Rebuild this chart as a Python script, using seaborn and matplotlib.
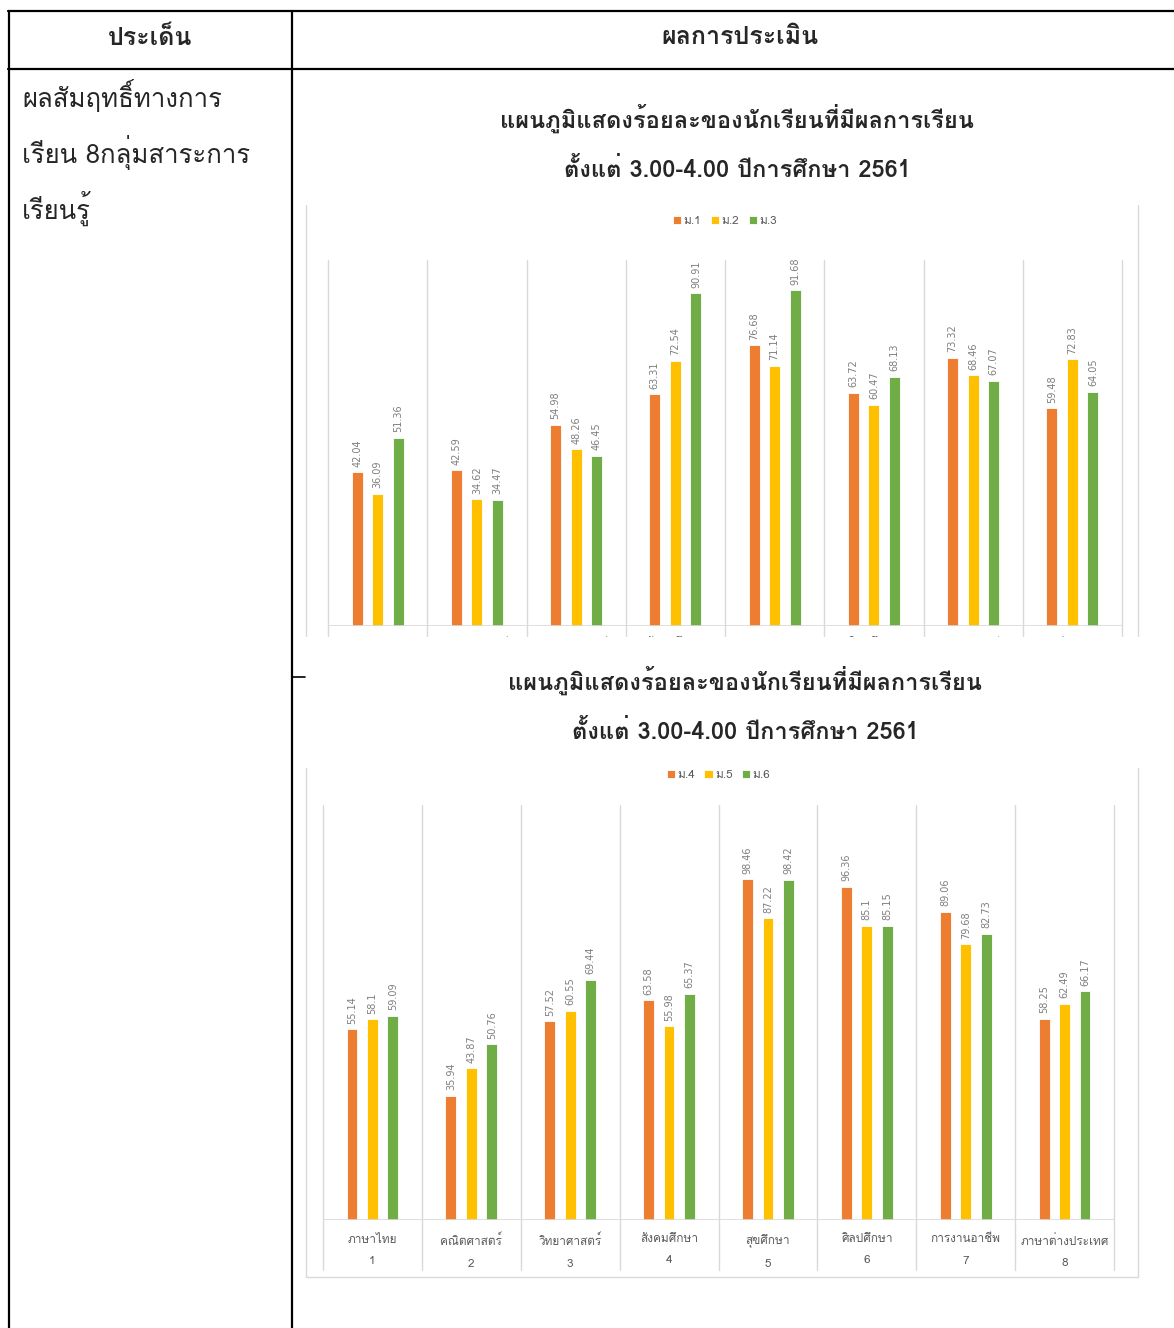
import numpy as np
import pandas as pd
import matplotlib
matplotlib.use('Agg')
import matplotlib.pyplot as plt
import seaborn as sns
from matplotlib import font_manager
from matplotlib.ft2font import FT2Font
from matplotlib.lines import Line2D
from matplotlib.patches import Rectangle

# ข้อมูล
subjects = ['ภาษาไทย', 'คณิตศาสตร์', 'วิทยาศาสตร์', 'สังคมศึกษา',
            'สุขศึกษา', 'ศิลปศึกษา', 'การงานอาชีพ', 'ภาษาต่างประเทศ']
subject_no = ['1', '2', '3', '4', '5', '6', '7', '8']

grades_lower = ['ม.1', 'ม.2', 'ม.3']
m1 = [42.04, 42.59, 54.98, 63.31, 76.68, 63.72, 73.32, 59.48]
m2 = [36.09, 34.62, 48.26, 72.54, 71.14, 60.47, 68.46, 72.83]
m3 = [51.36, 34.47, 46.45, 90.91, 91.68, 68.13, 67.07, 64.05]

grades_upper = ['ม.4', 'ม.5', 'ม.6']
m4 = [55.14, 35.94, 57.52, 63.58, 98.46, 96.36, 89.06, 58.25]
m5 = [58.1, 43.87, 60.55, 55.98, 87.22, 85.1, 79.68, 62.49]
m6 = [59.09, 50.76, 69.44, 65.37, 98.42, 85.15, 82.73, 66.17]

chart_title = ['แผนภูมิแสดงร้อยละของนักเรียนที่มีผลการเรียน',
               'ตั้งแต่ 3.00-4.00 ปีการศึกษา 2561']
header = ['ประเด็น', 'ผลการประเมิน']
left_cell = ['ผลสัมฤทธิ์ทางการ', 'เรียน 8กลุ่มสาระการ', 'เรียนรู้']

colors = ['#ED7D31', '#FFC000', '#70AD47']


# find a font that has Thai glyphs, if there is one
def thai_font():
    for f in font_manager.fontManager.ttflist:
        try:
            if ord('ก') in FT2Font(f.fname).get_charmap():
                return f.name
        except Exception:
            pass
    return 'DejaVu Sans'


sns.set_style('white')
fam = [thai_font(), 'DejaVu Sans']
plt.rcParams['font.family'] = fam

W, H = 1174, 1328
fig = plt.figure(figsize=(W / 100, H / 100), dpi=100)


def fx(x):
    return x / W


def fy(y):
    return 1 - y / H


def line(x0, y0, x1, y1, color='black', lw=1.6, z=1):
    fig.add_artist(Line2D([fx(x0), fx(x1)], [fy(y0), fy(y1)], color=color,
                          lw=lw, transform=fig.transFigure, zorder=z))


def make_df(grades, series, with_no=True):
    rows = []
    for g, vals in zip(grades, series):
        for s, n, v in zip(subjects, subject_no, vals):
            lab = s + '\n' + n if with_no else s
            rows.append({'subject': lab, 'grade': g, 'value': v})
    return pd.DataFrame(rows)


def draw_chart(rect_px, df, ymax, sep_low, legend_y, pad):
    left, top, right, bottom = rect_px
    ax = fig.add_axes([fx(left), fy(bottom), fx(right) - fx(left), (bottom - top) / H])
    sns.barplot(data=df, x='subject', y='value', hue='grade', palette=colors,
                saturation=1, width=0.62, gap=0.47, errorbar=None,
                edgecolor='white', linewidth=0.6, ax=ax)
    ax.set_xlim(-0.5, 7.5)
    ax.set_ylim(0, ymax)
    for c in ax.containers:
        ax.bar_label(c, fmt='{:g}', rotation=90, padding=4, fontsize=7,
                     color='#7F7F7F', family='DejaVu Sans')
    for x in np.arange(-0.5, 8, 1):
        ax.axvline(x, ymin=sep_low, ymax=1, color='#D9D9D9', lw=1, clip_on=False)
    ax.axhline(0, color='#D9D9D9', lw=1.2, zorder=3)
    sns.despine(ax=ax, left=True, bottom=True)
    ax.set_yticks([])
    ax.set_xlabel('')
    ax.set_ylabel('')
    ax.tick_params(axis='x', length=0, pad=pad, labelsize=8.5, labelcolor='#595959')
    for t in ax.get_xticklabels():
        t.set_linespacing(2.4)
    sns.move_legend(ax, 'center', bbox_to_anchor=(0.5, legend_y), ncol=3,
                    frameon=False, title=None, fontsize=8.5, handlelength=0.7,
                    handleheight=0.7, handletextpad=0.2, columnspacing=0.8,
                    labelcolor='#595959')
    return ax


# table lines
line(9, 11, 9, H)
line(292, 11, 292, H)
line(8, 11, W, 11)
line(8, 69, W, 69)
line(293, 677, 305, 677, lw=1.2)

fig.text(fx(150), fy(38), header[0], ha='center', va='center', fontsize=18, fontweight='bold')
fig.text(fx(740), fy(38), header[1], ha='center', va='center', fontsize=18, fontweight='bold')
for i, s in enumerate(left_cell):
    fig.text(fx(22), fy(96 + 56 * i), s, ha='left', va='center', fontsize=18.5)

# chart 1 (ม.1 - ม.3)
fig.text(fx(737), fy(118), chart_title[0], ha='center', va='center', fontsize=17, fontweight='bold')
fig.text(fx(737), fy(170), chart_title[1], ha='center', va='center', fontsize=17, fontweight='bold')
line(306, 205, 306, 637, color='#D9D9D9', lw=1)
line(1138, 205, 1138, 637, color='#D9D9D9', lw=1)
draw_chart((328, 260, 1122, 626), make_df(grades_lower, [m1, m2, m3], with_no=False),
           100, -0.03, 1.107, pad=9)

# the first chart is cut off at the bottom in the document
fig.add_artist(Rectangle((fx(300), fy(662)), fx(W) - fx(300), (662 - 637) / H,
                         transform=fig.transFigure, facecolor='white',
                         edgecolor='none', zorder=5))

# chart 2 (ม.4 - ม.6)
fig.text(fx(745), fy(680), chart_title[0], ha='center', va='center', fontsize=17, fontweight='bold')
fig.text(fx(745), fy(732), chart_title[1], ha='center', va='center', fontsize=17, fontweight='bold')
line(306, 768, 306, 1277, color='#D9D9D9', lw=1)
line(1138, 768, 1138, 1277, color='#D9D9D9', lw=1)
line(306, 1277, 1138, 1277, color='#D9D9D9', lw=1)
draw_chart((323, 805, 1114, 1220), make_df(grades_upper, [m4, m5, m6]),
           120, -0.12, 1.072, pad=10)

fig.savefig('out.png', dpi=100)
